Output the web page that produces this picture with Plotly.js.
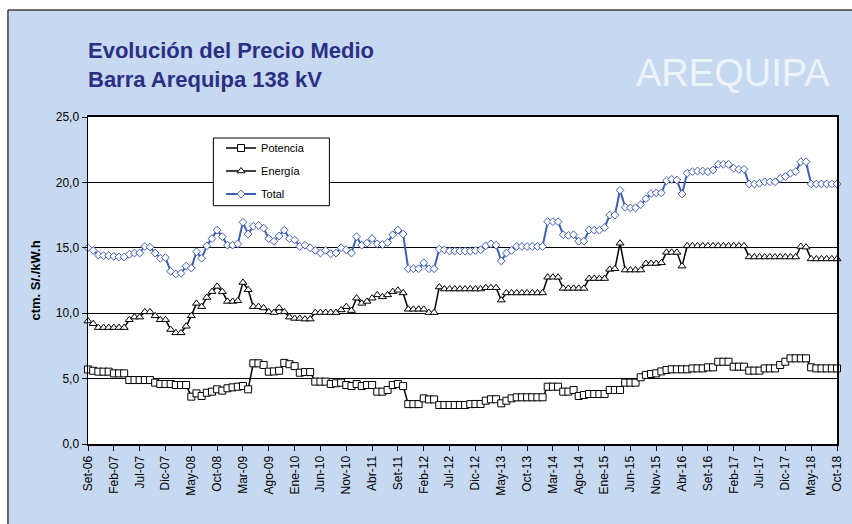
<!DOCTYPE html>
<html><head><meta charset="utf-8">
<script src="https://cdn.plot.ly/plotly-3.0.1.min.js"></script>
<style>html,body{margin:0;padding:0;background:#fff;}#chart{width:852px;height:524px;}</style>
</head><body><div id="chart"></div>
<script>
const monthAbbr = ["Ene","Feb","Mar","Abr","May","Jun","Jul","Ago","Set","Oct","Nov","Dic"];
const startYear = 2006, startMonthIndex = 8; // Set-06

const potencia = [
5.70,5.60,5.53,5.53,5.53,5.40,5.40,5.40,4.89,4.89,
4.89,4.89,4.89,4.69,4.59,4.59,4.59,4.51,4.51,4.51,
3.62,3.87,3.67,3.92,4.00,4.18,4.08,4.26,4.33,4.38,
4.43,4.18,6.17,6.17,6.04,5.53,5.55,5.60,6.20,6.10,
5.95,5.45,5.50,5.50,4.77,4.77,4.77,4.59,4.64,4.69,
4.51,4.43,4.59,4.43,4.51,4.51,4.00,4.00,4.13,4.51,
4.59,4.43,3.05,3.05,3.05,3.49,3.41,3.41,2.98,2.98,
2.98,2.98,2.98,2.98,3.05,3.06,3.06,3.31,3.42,3.42,
3.11,3.31,3.49,3.57,3.57,3.57,3.57,3.57,3.57,4.38,
4.38,4.38,4.00,4.00,4.13,3.67,3.75,3.82,3.82,3.82,
3.82,4.13,4.13,4.13,4.69,4.69,4.69,5.10,5.28,5.35,
5.40,5.55,5.66,5.71,5.71,5.71,5.71,5.78,5.78,5.78,
5.86,5.86,6.29,6.29,6.29,5.91,5.91,5.91,5.61,5.61,
5.61,5.78,5.78,5.78,6.04,6.29,6.55,6.55,6.55,6.55,
5.86,5.78,5.78,5.78,5.78,5.78
];

const energia = [
9.40,9.20,8.90,8.90,8.90,8.90,8.90,8.90,9.50,9.70,
9.70,10.10,10.10,9.80,9.50,9.50,8.75,8.50,8.50,9.00,
9.80,10.75,10.50,11.20,11.65,12.05,11.65,10.90,10.90,10.95,
12.35,11.80,10.50,10.50,10.40,10.10,10.05,10.40,10.10,9.70,
9.60,9.60,9.55,9.55,10.05,10.05,10.05,10.05,10.05,10.25,
10.50,10.20,11.15,10.75,10.90,11.15,11.40,11.25,11.40,11.65,
11.75,11.55,10.30,10.30,10.30,10.30,10.05,10.05,12.00,11.85,
11.85,11.85,11.85,11.85,11.85,11.85,11.85,11.95,11.95,11.95,
11.00,11.55,11.55,11.55,11.55,11.55,11.55,11.55,11.55,12.75,
12.75,12.75,11.90,11.90,11.90,11.90,11.90,12.65,12.65,12.65,
12.65,13.35,13.40,15.35,13.30,13.30,13.30,13.30,13.80,13.80,
13.80,13.85,14.65,14.65,14.65,13.60,15.15,15.15,15.15,15.15,
15.15,15.15,15.15,15.15,15.15,15.15,15.15,15.15,14.30,14.30,
14.30,14.30,14.30,14.30,14.30,14.30,14.30,14.30,15.10,15.05,
14.15,14.15,14.15,14.15,14.15,14.15
];

const total = [
15.00,14.80,14.45,14.40,14.40,14.35,14.30,14.30,14.50,14.60,
14.60,15.10,15.05,14.60,14.20,14.25,13.20,13.00,13.05,13.60,
13.45,14.70,14.20,15.15,15.70,16.35,15.85,15.20,15.20,15.30,
16.95,16.05,16.65,16.70,16.50,15.70,15.50,15.90,16.35,15.70,
15.60,15.10,15.20,15.00,14.80,14.60,14.80,14.55,14.60,15.00,
14.85,14.60,15.85,15.20,15.35,15.70,15.30,15.25,15.40,16.00,
16.35,16.05,13.40,13.40,13.40,13.85,13.40,13.40,14.90,14.85,
14.75,14.75,14.75,14.75,14.75,14.80,14.85,15.15,15.30,15.20,
14.00,14.60,14.80,15.10,15.10,15.10,15.10,15.10,15.10,17.00,
17.00,17.00,16.00,15.95,16.00,15.50,15.50,16.35,16.35,16.35,
16.55,17.50,17.50,19.40,18.10,18.05,18.05,18.30,18.75,19.15,
19.20,19.20,20.13,20.23,20.18,19.11,20.70,20.82,20.87,20.87,
20.82,20.95,21.38,21.38,21.38,21.08,21.00,21.00,19.88,19.88,
19.93,20.05,20.05,20.05,20.30,20.44,20.70,20.82,21.58,21.58,
19.88,19.88,19.88,19.88,19.88,19.88
];

const tickLabels = ["Set-06","Feb-07","Jul-07","Dic-07","May-08","Oct-08","Mar-09","Ago-09","Ene-10","Jun-10",
"Nov-10","Abr-11","Set-11","Feb-12","Jul-12","Dic-12","May-13","Oct-13","Mar-14","Ago-14",
"Ene-15","Jun-15","Nov-15","Abr-16","Set-16","Feb-17","Jul-17","Dic-17","May-18","Oct-18"];

const yTicks = [0,5,10,15,20,25];

const months = potencia.map((_, i) => {
  const k = startMonthIndex + i;
  return monthAbbr[k % 12] + "-" + String((startYear + Math.floor(k / 12)) % 100).padStart(2, "0");
});

// plot-area geometry in pixels
const L = 88, R = 836.7, T = 117, B = 444;
const px = v => (v - L) / (R - L);
const py = v => (B - v) / (B - T);

const FONT = "Liberation Sans, Arial, sans-serif";
const BLUE = "#3F5FB5";

const traces = [
  {name: "Potencia", x: months, y: potencia, type: "scatter", mode: "lines+markers", legendgroup: "a",
   line: {color: "#000", width: 1.5}, cliponaxis: false,
   marker: {symbol: "square", size: 7, color: "#fff", line: {color: "#000", width: 1}}},
  {name: "Energía", x: months, y: energia, type: "scatter", mode: "lines+markers", legendgroup: "b",
   line: {color: "#000", width: 1.5}, cliponaxis: false,
   marker: {symbol: "triangle-up", size: 7, color: "#fff", line: {color: "#000", width: 1}}},
  {name: "Total", x: months, y: total, type: "scatter", mode: "lines+markers", legendgroup: "c",
   line: {color: BLUE, width: 2}, cliponaxis: false,
   marker: {symbol: "diamond", size: 6, color: "#fff", line: {color: BLUE, width: 1}}}
];

const layout = {
  width: 852, height: 524,
  margin: {l: L, r: 852 - R, t: T, b: 524 - B, pad: 0},
  paper_bgcolor: "#C6D9F0",
  plot_bgcolor: "#fff",
  separators: ",.",
  font: {family: FONT, color: "#000", size: 12},
  showlegend: true,
  title: {
    text: "Evolución del Precio Medio<br>Barra Arequipa 138 kV",
    font: {family: FONT, size: 22, color: "#2B2F84", weight: "bold"},
    x: 88 / 852, xref: "container", xanchor: "left",
    y: 1 - 58 / 524, yref: "container", yanchor: "top"
  },
  xaxis: {
    type: "category", range: [0, months.length - 1],
    tickmode: "array", tickvals: tickLabels, ticktext: tickLabels,
    tickangle: -90, ticks: "outside", ticklen: 5, tickcolor: "#000", tickwidth: 1,
    tickfont: {family: FONT, size: 12, color: "#000"},
    showgrid: false, zeroline: false,
    showline: true, mirror: true, linecolor: "#000", linewidth: 2
  },
  yaxis: {
    range: [0, 25], tickmode: "array", tickvals: yTicks, tickformat: ".1f",
    ticks: "outside", ticklen: 5, tickcolor: "#000", tickwidth: 1,
    tickfont: {family: FONT, size: 12, color: "#000"},
    showgrid: true, gridcolor: "#000", gridwidth: 1, zeroline: false,
    showline: true, mirror: true, linecolor: "#000", linewidth: 1.5,
    title: {text: "ctm. S/./kW.h", font: {family: FONT, size: 13, color: "#000", weight: "bold"}, standoff: 12}
  },
  legend: {
    x: px(221), y: py(133.5), xanchor: "left", yanchor: "top",
    bgcolor: "rgba(0,0,0,0)", borderwidth: 0,
    traceorder: "grouped", tracegroupgap: 4,
    font: {family: FONT, size: 11, color: "#000"}
  },
  annotations: [
    {text: "AREQUIPA", xref: "paper", yref: "paper", x: px(733), y: py(73),
     xanchor: "center", yanchor: "middle", showarrow: false,
     font: {family: FONT, size: 38, color: "#EEF3FA"}}
  ],
  shapes: [
    {type: "rect", xref: "paper", yref: "paper", x0: px(-5), x1: px(860), y0: py(10), y1: py(-5),
     fillcolor: "#fff", line: {width: 0}, layer: "above"},
    {type: "rect", xref: "paper", yref: "paper", x0: px(-5), x1: px(8), y0: py(530), y1: py(10),
     fillcolor: "#fff", line: {width: 0}, layer: "above"},
    {type: "line", xref: "paper", yref: "paper", x0: px(8), x1: px(860), y0: py(10), y1: py(10),
     line: {color: "#404040", width: 1.5}, layer: "above"},
    {type: "line", xref: "paper", yref: "paper", x0: px(8), x1: px(8), y0: py(10), y1: py(530),
     line: {color: "#404040", width: 1.5}, layer: "above"},
    {type: "rect", xref: "paper", yref: "paper", x0: px(213.3), x1: px(329.3), y0: py(205.7), y1: py(138),
     fillcolor: "#fff", line: {color: "#000", width: 1}, layer: "above"}
  ]
};

Plotly.newPlot("chart", traces, layout, {displayModeBar: false, staticPlot: true});
</script>
</body></html>
